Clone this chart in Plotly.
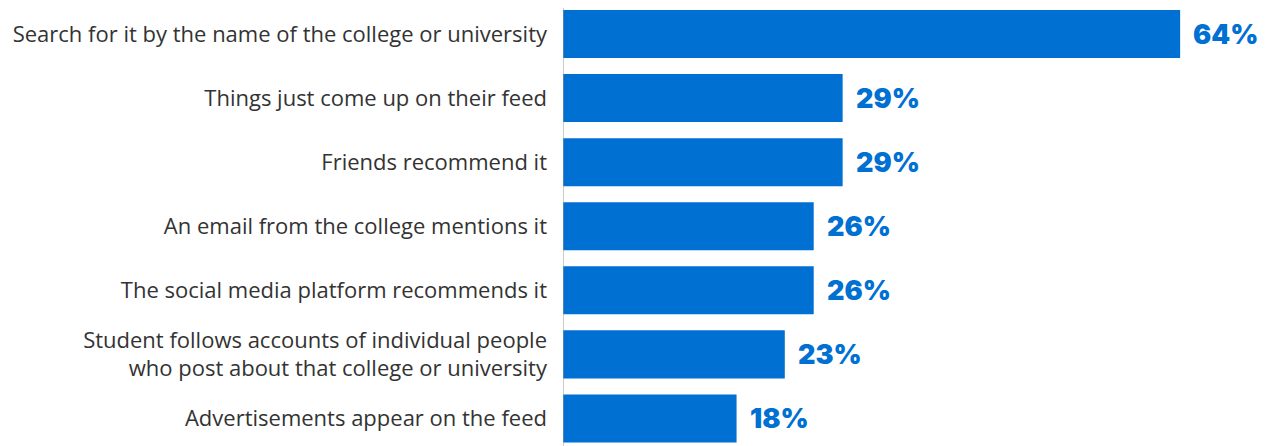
import plotly.graph_objects as go

categories = [
    "Search for it by the name of the college or university",
    "Things just come up on their feed",
    "Friends recommend it",
    "An email from the college mentions it",
    "The social media platform recommends it",
    "Student follows accounts of individual people<br>who post about that college or university",
    "Advertisements appear on the feed",
]
values = [64, 29, 29, 26, 26, 23, 18]
value_labels = ["64%", "29%", "29%", "26%", "26%", "23%", "18%"]

BLUE = "#0070D2"

fig = go.Figure(go.Bar(
    x=values, y=list(range(len(categories))), orientation="h",
    marker=dict(color=BLUE, line=dict(width=0)), width=0.75,
    hoverinfo="skip",
))

for i, (v, t) in enumerate(zip(values, value_labels)):
    fig.add_annotation(x=v, y=i, text=t, showarrow=False, xanchor="left",
                       xshift=11, yshift=0,
                       font=dict(family="Inter", size=27, color=BLUE, weight=900))

fig.add_shape(type="line", xref="x", yref="paper", x0=0, x1=0, y0=0, y1=1,
              line=dict(color="#9a9a9a", width=1))

fig.update_layout(
    width=1264, height=438,
    margin=dict(l=555, r=34, t=0, b=0),
    paper_bgcolor="white", plot_bgcolor="white",
    showlegend=False,
    xaxis=dict(range=[0, 70], visible=False),
    yaxis=dict(range=[6.43, -0.406], tickmode="array",
               tickvals=list(range(len(categories))), ticktext=categories,
               showgrid=False, zeroline=False, showline=False, ticks="",
               ticklabelstandoff=15,
               tickfont=dict(family="Open Sans", size=22, color="#333333")),
)

fig.write_html("out.html")
